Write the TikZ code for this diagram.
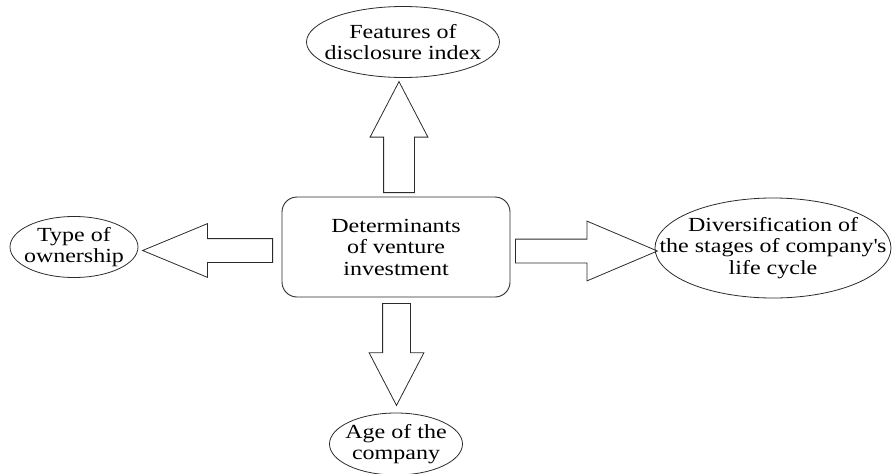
\documentclass[tikz,border=0pt]{standalone}
\usepackage{fontspec}
\setmainfont[FakeStretch=1.2]{Liberation Serif}
\usetikzlibrary{shapes.geometric,shapes.arrows}
\definecolor{viInk}{HTML}{2B2B2B}
\tikzset{
  vi box/.style={rectangle, rounded corners=15pt, draw=viInk, line width=0.9pt, minimum width=228pt, minimum height=100pt, inner sep=0pt},
  vi oval/.style={ellipse, draw=viInk, line width=0.8pt, inner sep=0pt},
  vi arrow/.style={single arrow, draw=viInk, line width=0.8pt, inner xsep=0pt, anchor=tail},
  vi text/.style={align=center, font=\fontsize{20}{21.5}\selectfont, text=black},
}

\begin{document}
\begin{tikzpicture}[x=1pt, y=-1pt]
  \useasboundingbox (0,0) rectangle (895,474);
  \clip (0,0) rectangle (895,474);

  % Centre box
  \node[vi box, vi text] (det) at (396,247) {Determinants\\of venture\\investment};

  % Four ovals round it
  \node[vi oval, minimum width=193pt, minimum height=71pt, label={[vi text]center:Features of\\disclosure index}] (feat) at (403,42) {};
  \node[vi oval, minimum width=128pt, minimum height=61pt, label={[vi text]center:Type of\\ownership}] (own) at (74,247) {};
  \node[vi oval, minimum width=236pt, minimum height=100pt, label={[vi text]center:Diversification of\\the stages of company\textquotesingle s\\life cycle}] (life) at (773,248) {};
  \node[vi oval, minimum width=133pt, minimum height=62pt, label={[vi text]center:Age of the\\company}] (age) at (396,444) {};

  % Block arrows
  \node[vi arrow, rotate=90, minimum height=111pt, inner ysep=15pt, single arrow head extend=13.5pt, single arrow tip angle=55] (to feat) at (399,193) {};
  \node[vi arrow, rotate=180, minimum height=130pt, inner ysep=11.5pt, single arrow head extend=15pt, single arrow tip angle=45] (to own) at (273,250.5) {};
  \node[vi arrow, minimum height=142pt, inner ysep=11.5pt, single arrow head extend=18pt, single arrow tip angle=46] (to life) at (515,251) {};
  \node[vi arrow, rotate=-90, minimum height=102pt, inner ysep=13.5pt, single arrow head extend=13.5pt, single arrow tip angle=55] (to age) at (396.5,303) {};
\end{tikzpicture}
\end{document}
